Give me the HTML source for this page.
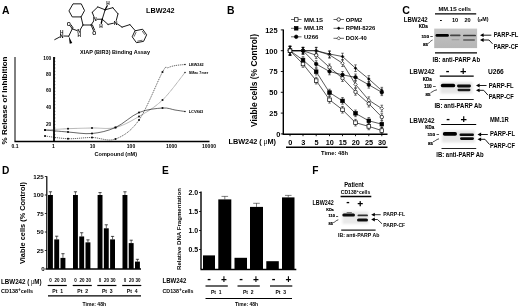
<!DOCTYPE html>
<html><head><meta charset="utf-8"><title>LBW242 figure</title>
<style>
html,body{margin:0;padding:0;background:#fff;}
body{width:520px;height:307px;overflow:hidden;}
svg{display:block;font-family:"Liberation Sans", sans-serif;filter:blur(0.35px);}
</style></head><body>
<svg width="520" height="307" viewBox="0 0 520 307">
<defs><filter id="bl" x="-20%" y="-60%" width="140%" height="220%"><feGaussianBlur stdDeviation="0.45"/></filter>
<filter id="bl2" x="-20%" y="-40%" width="140%" height="180%"><feGaussianBlur stdDeviation="1.2"/></filter>
<linearGradient id="gb" x1="0" y1="0" x2="0" y2="1"><stop offset="0" stop-color="#c6c6c6"/><stop offset="0.5" stop-color="#bcbcbc"/><stop offset="1" stop-color="#b6b6b6"/></linearGradient></defs>
<rect width="520" height="307" fill="#fff"/>
<g id="panelA">
<text x="2.00" y="13.74" font-size="10.4" font-weight="bold" text-anchor="start" fill="#000">A</text>
<path d="M69.15,10.58 L73.00,3.85 L81.27,3.85 L84.54,10.58 L81.08,16.92 L72.62,16.92 Z" stroke="#000" stroke-width="0.9" fill="none" stroke-linejoin="round" stroke-linecap="round"/>
<path d="M81.08,16.92 L83.00,25.00" stroke="#000" stroke-width="0.9" fill="none" stroke-linejoin="round" stroke-linecap="round"/>
<path d="M83.00,25.00 L80.35,29.37" stroke="#000" stroke-width="0.9" fill="none" stroke-linejoin="round" stroke-linecap="round"/>
<path d="M83.00,25.00 L91.08,25.00" stroke="#000" stroke-width="0.9" fill="none" stroke-linejoin="round" stroke-linecap="round"/>
<path d="M91.08,25.00 L93.64,21.15" stroke="#000" stroke-width="0.9" fill="none" stroke-linejoin="round" stroke-linecap="round"/>
<path d="M91.08,25.00 L93.44,30.57" stroke="#000" stroke-width="0.9" fill="none" stroke-linejoin="round" stroke-linecap="round"/>
<path d="M92.38,24.87 L94.59,30.08" stroke="#000" stroke-width="0.9" fill="none" stroke-linejoin="round" stroke-linecap="round"/>
<path d="M94.09,17.08 L92.23,12.31" stroke="#000" stroke-width="0.9" fill="none" stroke-linejoin="round" stroke-linecap="round"/>
<path d="M92.23,12.31 L97.81,6.92" stroke="#000" stroke-width="0.9" fill="none" stroke-linejoin="round" stroke-linecap="round"/>
<path d="M97.81,6.92 L105.12,9.81" stroke="#000" stroke-width="0.9" fill="none" stroke-linejoin="round" stroke-linecap="round"/>
<path d="M105.12,9.81 L102.23,19.23" stroke="#000" stroke-width="0.9" fill="none" stroke-linejoin="round" stroke-linecap="round"/>
<path d="M102.23,19.23 L97.23,19.23" stroke="#000" stroke-width="0.9" fill="none" stroke-linejoin="round" stroke-linecap="round"/>
<path d="M105.12,9.81 L112.81,7.69" stroke="#000" stroke-width="0.9" fill="none" stroke-linejoin="round" stroke-linecap="round"/>
<path d="M112.81,7.69 L118.00,13.85" stroke="#000" stroke-width="0.9" fill="none" stroke-linejoin="round" stroke-linecap="round"/>
<path d="M118.00,13.85 L116.27,20.46" stroke="#000" stroke-width="0.9" fill="none" stroke-linejoin="round" stroke-linecap="round"/>
<path d="M113.44,23.20 L108.00,24.42" stroke="#000" stroke-width="0.9" fill="none" stroke-linejoin="round" stroke-linecap="round"/>
<path d="M108.00,24.42 L102.23,19.23" stroke="#000" stroke-width="0.9" fill="none" stroke-linejoin="round" stroke-linecap="round"/>
<path d="M105.12,9.81 L107.23,5.77" stroke="#000" stroke-width="1.3" fill="none" stroke-linejoin="round" stroke-linecap="round"/>
<path d="M102.23,19.23 L101.27,23.27" stroke="#000" stroke-width="1.3" fill="none" stroke-linejoin="round" stroke-linecap="round"/>
<path d="M117.59,24.01 L122.04,27.12" stroke="#000" stroke-width="0.9" fill="none" stroke-linejoin="round" stroke-linecap="round"/>
<path d="M122.04,27.12 L129.92,24.62" stroke="#000" stroke-width="0.9" fill="none" stroke-linejoin="round" stroke-linecap="round"/>
<path d="M129.92,24.62 L135.31,30.77" stroke="#000" stroke-width="0.9" fill="none" stroke-linejoin="round" stroke-linecap="round"/>
<path d="M135.31,30.77 L142.62,29.23 L146.65,34.81 L143.58,41.35 L136.46,42.69 L132.42,37.12 Z" stroke="#000" stroke-width="0.9" fill="none" stroke-linejoin="round" stroke-linecap="round"/>
<path d="M142.27,31.19 L144.74,34.60" stroke="#000" stroke-width="0.6" fill="none" stroke-linejoin="round" stroke-linecap="round"/>
<path d="M142.11,40.28 L137.70,41.11" stroke="#000" stroke-width="0.6" fill="none" stroke-linejoin="round" stroke-linecap="round"/>
<path d="M134.22,36.34 L135.99,32.44" stroke="#000" stroke-width="0.6" fill="none" stroke-linejoin="round" stroke-linecap="round"/>
<path d="M76.98,30.56 L72.23,28.85" stroke="#000" stroke-width="0.9" fill="none" stroke-linejoin="round" stroke-linecap="round"/>
<path d="M72.23,28.85 L70.05,25.57" stroke="#000" stroke-width="0.9" fill="none" stroke-linejoin="round" stroke-linecap="round"/>
<path d="M73.06,27.83 L71.09,24.88" stroke="#000" stroke-width="0.9" fill="none" stroke-linejoin="round" stroke-linecap="round"/>
<path d="M72.23,28.85 L68.77,36.15" stroke="#000" stroke-width="0.9" fill="none" stroke-linejoin="round" stroke-linecap="round"/>
<path d="M68.77,36.15 L63.96,36.02" stroke="#000" stroke-width="0.9" fill="none" stroke-linejoin="round" stroke-linecap="round"/>
<polygon points="68.77,36.15 69.73,43.85 72.23,42.88" fill="#000"/>
<path d="M59.61,37.04 L54.73,39.62" stroke="#000" stroke-width="0.9" fill="none" stroke-linejoin="round" stroke-linecap="round"/>
<text x="94.92" y="21.10" font-size="5.2" font-weight="bold" text-anchor="middle" fill="#000">N</text>
<text x="115.69" y="24.56" font-size="5.2" font-weight="bold" text-anchor="middle" fill="#000">N</text>
<text x="79.15" y="33.22" font-size="5.2" font-weight="bold" text-anchor="middle" fill="#000">N</text>
<text x="79.15" y="37.30" font-size="4.8" font-weight="bold" text-anchor="middle" fill="#000">H</text>
<text x="61.65" y="37.83" font-size="5.2" font-weight="bold" text-anchor="middle" fill="#000">N</text>
<text x="61.65" y="33.65" font-size="4.8" font-weight="bold" text-anchor="middle" fill="#000">H</text>
<text x="68.77" y="25.53" font-size="5.2" font-weight="bold" text-anchor="middle" fill="#000">O</text>
<text x="94.35" y="34.56" font-size="5.2" font-weight="bold" text-anchor="middle" fill="#000">O</text>
<text x="108.00" y="5.00" font-size="4.8" font-weight="bold" text-anchor="middle" fill="#000">H</text>
<text x="100.88" y="27.69" font-size="4.8" font-weight="bold" text-anchor="middle" fill="#000">H</text>
<text x="146.00" y="13.14" font-size="7.9" font-weight="bold" text-anchor="start" fill="#000" textLength="28.5" lengthAdjust="spacingAndGlyphs">LBW242</text>
<text x="115.00" y="53.52" font-size="5.6" font-weight="bold" text-anchor="middle" fill="#000" textLength="70" lengthAdjust="spacingAndGlyphs">XIAP (BIR3) Binding Assay</text>
<line x1="15.00" y1="57.00" x2="15.00" y2="141.50" stroke="#000" stroke-width="1"/>
<line x1="54.00" y1="57.00" x2="54.00" y2="141.50" stroke="#000" stroke-width="1.8"/>
<line x1="14.50" y1="141.50" x2="209.50" y2="141.50" stroke="#000" stroke-width="1.3"/>
<line x1="54.00" y1="141.30" x2="55.60" y2="141.30" stroke="#000" stroke-width="0.4"/>
<line x1="54.00" y1="137.97" x2="55.60" y2="137.97" stroke="#000" stroke-width="0.4"/>
<line x1="54.00" y1="134.64" x2="55.60" y2="134.64" stroke="#000" stroke-width="0.4"/>
<line x1="54.00" y1="131.30" x2="55.60" y2="131.30" stroke="#000" stroke-width="0.4"/>
<line x1="54.00" y1="127.97" x2="55.60" y2="127.97" stroke="#000" stroke-width="0.4"/>
<line x1="54.00" y1="124.64" x2="55.60" y2="124.64" stroke="#000" stroke-width="0.4"/>
<line x1="54.00" y1="121.31" x2="55.60" y2="121.31" stroke="#000" stroke-width="0.4"/>
<line x1="54.00" y1="117.98" x2="55.60" y2="117.98" stroke="#000" stroke-width="0.4"/>
<line x1="54.00" y1="114.64" x2="55.60" y2="114.64" stroke="#000" stroke-width="0.4"/>
<line x1="54.00" y1="111.31" x2="55.60" y2="111.31" stroke="#000" stroke-width="0.4"/>
<line x1="54.00" y1="107.98" x2="55.60" y2="107.98" stroke="#000" stroke-width="0.4"/>
<line x1="54.00" y1="104.65" x2="55.60" y2="104.65" stroke="#000" stroke-width="0.4"/>
<line x1="54.00" y1="101.32" x2="55.60" y2="101.32" stroke="#000" stroke-width="0.4"/>
<line x1="54.00" y1="97.98" x2="55.60" y2="97.98" stroke="#000" stroke-width="0.4"/>
<line x1="54.00" y1="94.65" x2="55.60" y2="94.65" stroke="#000" stroke-width="0.4"/>
<line x1="54.00" y1="91.32" x2="55.60" y2="91.32" stroke="#000" stroke-width="0.4"/>
<line x1="54.00" y1="87.99" x2="55.60" y2="87.99" stroke="#000" stroke-width="0.4"/>
<line x1="54.00" y1="84.66" x2="55.60" y2="84.66" stroke="#000" stroke-width="0.4"/>
<line x1="54.00" y1="81.32" x2="55.60" y2="81.32" stroke="#000" stroke-width="0.4"/>
<line x1="54.00" y1="77.99" x2="55.60" y2="77.99" stroke="#000" stroke-width="0.4"/>
<line x1="54.00" y1="74.66" x2="55.60" y2="74.66" stroke="#000" stroke-width="0.4"/>
<line x1="54.00" y1="71.33" x2="55.60" y2="71.33" stroke="#000" stroke-width="0.4"/>
<line x1="54.00" y1="68.00" x2="55.60" y2="68.00" stroke="#000" stroke-width="0.4"/>
<line x1="54.00" y1="64.66" x2="55.60" y2="64.66" stroke="#000" stroke-width="0.4"/>
<line x1="54.00" y1="61.33" x2="55.60" y2="61.33" stroke="#000" stroke-width="0.4"/>
<line x1="54.00" y1="58.00" x2="55.60" y2="58.00" stroke="#000" stroke-width="0.4"/>
<text x="51.30" y="60.43" font-size="4.8" font-weight="bold" text-anchor="end" fill="#000">100</text>
<text x="51.30" y="75.73" font-size="4.8" font-weight="bold" text-anchor="end" fill="#000">80</text>
<text x="51.30" y="92.23" font-size="4.8" font-weight="bold" text-anchor="end" fill="#000">60</text>
<text x="51.30" y="108.73" font-size="4.8" font-weight="bold" text-anchor="end" fill="#000">40</text>
<text x="51.30" y="126.03" font-size="4.8" font-weight="bold" text-anchor="end" fill="#000">20</text>
<text x="15.00" y="148.00" font-size="5" font-weight="bold" text-anchor="middle" fill="#000">0.1</text>
<text x="53.50" y="148.00" font-size="5" font-weight="bold" text-anchor="middle" fill="#000">1</text>
<text x="92.50" y="148.00" font-size="5" font-weight="bold" text-anchor="middle" fill="#000">10</text>
<text x="131.00" y="148.00" font-size="5" font-weight="bold" text-anchor="middle" fill="#000">100</text>
<text x="171.50" y="148.00" font-size="5" font-weight="bold" text-anchor="middle" fill="#000">1000</text>
<text x="209.00" y="148.00" font-size="5" font-weight="bold" text-anchor="middle" fill="#000">10000</text>
<text x="115.80" y="155.52" font-size="5.6" font-weight="bold" text-anchor="middle" fill="#000" textLength="42.5" lengthAdjust="spacingAndGlyphs">Compound (nM)</text>
<text transform="translate(7.4,100.5) rotate(-90)" font-size="8.1" font-weight="bold" text-anchor="middle" textLength="88" lengthAdjust="spacingAndGlyphs">% Release of Inhibition</text>
<path d="M45.00,136.00 C48.83,136.45 60.17,138.45 68.00,138.70 C75.83,138.95 84.08,137.45 92.00,137.50 C99.92,137.55 107.67,141.92 115.50,139.00 C123.33,136.08 131.17,131.17 139.00,120.00 C146.83,108.83 157.67,80.70 162.50,72.00 C167.33,63.30 165.92,68.87 168.00,67.80 C170.08,66.73 172.17,66.15 175.00,65.60 C177.83,65.05 183.33,64.68 185.00,64.50" stroke="#000" stroke-width="0.6" fill="none" stroke-dasharray="1.2,0.8"/>
<path d="M45.00,130.00 C48.83,129.78 60.17,129.03 68.00,128.70 C75.83,128.37 84.08,128.20 92.00,128.00 C99.92,127.80 107.67,129.42 115.50,127.50 C123.33,125.58 131.17,121.08 139.00,116.50 C146.83,111.92 154.83,107.33 162.50,100.00 C170.17,92.67 181.25,77.08 185.00,72.50" stroke="#222" stroke-width="0.55" fill="none" stroke-dasharray="0.6,0.45"/>
<path d="M45.00,130.00 C48.83,130.33 60.17,131.42 68.00,132.00 C75.83,132.58 84.08,134.25 92.00,133.50 C99.92,132.75 107.67,131.00 115.50,127.50 C123.33,124.00 131.17,115.75 139.00,112.50 C146.83,109.25 156.50,108.42 162.50,108.00 C168.50,107.58 171.25,109.42 175.00,110.00 C178.75,110.58 183.33,111.25 185.00,111.50" stroke="#000" stroke-width="0.6" fill="none"/>
<rect x="44.15" y="135.15" width="1.70" height="1.70" fill="#000"/>
<rect x="67.15" y="137.85" width="1.70" height="1.70" fill="#000"/>
<rect x="91.15" y="136.65" width="1.70" height="1.70" fill="#000"/>
<rect x="114.65" y="138.15" width="1.70" height="1.70" fill="#000"/>
<rect x="138.15" y="119.15" width="1.70" height="1.70" fill="#000"/>
<rect x="161.65" y="71.15" width="1.70" height="1.70" fill="#000"/>
<rect x="44.15" y="129.15" width="1.70" height="1.70" fill="#000"/>
<rect x="67.15" y="127.85" width="1.70" height="1.70" fill="#000"/>
<rect x="91.15" y="127.15" width="1.70" height="1.70" fill="#000"/>
<rect x="114.65" y="126.65" width="1.70" height="1.70" fill="#000"/>
<rect x="138.15" y="115.65" width="1.70" height="1.70" fill="#000"/>
<rect x="161.65" y="99.15" width="1.70" height="1.70" fill="#000"/>
<rect x="44.15" y="129.15" width="1.70" height="1.70" fill="#000"/>
<rect x="67.15" y="131.15" width="1.70" height="1.70" fill="#000"/>
<rect x="91.15" y="132.65" width="1.70" height="1.70" fill="#000"/>
<rect x="114.65" y="126.65" width="1.70" height="1.70" fill="#000"/>
<rect x="138.15" y="111.65" width="1.70" height="1.70" fill="#000"/>
<rect x="161.65" y="107.15" width="1.70" height="1.70" fill="#000"/>
<rect x="184.40" y="63.90" width="1.20" height="1.20" fill="#000"/>
<rect x="184.40" y="71.90" width="1.20" height="1.20" fill="#000"/>
<rect x="184.40" y="110.90" width="1.20" height="1.20" fill="#000"/>
<text x="188.70" y="65.80" font-size="3.6" font-weight="bold" text-anchor="start" fill="#000" textLength="15" lengthAdjust="spacingAndGlyphs">LBW242</text>
<text x="188.70" y="73.80" font-size="3.6" font-weight="bold" text-anchor="start" fill="#000" textLength="19.5" lengthAdjust="spacingAndGlyphs">SMac 7mer</text>
<text x="188.70" y="112.60" font-size="3.6" font-weight="bold" text-anchor="start" fill="#000" textLength="14.5" lengthAdjust="spacingAndGlyphs">LCV843</text>
</g>
<g id="panelB">
<text x="227.00" y="13.74" font-size="10.4" font-weight="bold" text-anchor="start" fill="#000">B</text>
<line x1="283.30" y1="29.50" x2="283.30" y2="134.20" stroke="#000" stroke-width="1.4"/>
<line x1="282.60" y1="134.20" x2="387.50" y2="134.20" stroke="#000" stroke-width="1.5"/>
<line x1="280.80" y1="29.90" x2="283.30" y2="29.90" stroke="#000" stroke-width="0.9"/>
<text x="277.50" y="32.76" font-size="7.4" font-weight="bold" text-anchor="end" fill="#000">125</text>
<line x1="280.80" y1="50.70" x2="283.30" y2="50.70" stroke="#000" stroke-width="0.9"/>
<text x="277.50" y="53.56" font-size="7.4" font-weight="bold" text-anchor="end" fill="#000">100</text>
<line x1="280.80" y1="71.50" x2="283.30" y2="71.50" stroke="#000" stroke-width="0.9"/>
<text x="277.50" y="74.36" font-size="7.4" font-weight="bold" text-anchor="end" fill="#000">75</text>
<line x1="280.80" y1="92.30" x2="283.30" y2="92.30" stroke="#000" stroke-width="0.9"/>
<text x="277.50" y="95.16" font-size="7.4" font-weight="bold" text-anchor="end" fill="#000">50</text>
<line x1="280.80" y1="113.10" x2="283.30" y2="113.10" stroke="#000" stroke-width="0.9"/>
<text x="277.50" y="115.96" font-size="7.4" font-weight="bold" text-anchor="end" fill="#000">25</text>
<line x1="280.80" y1="133.90" x2="283.30" y2="133.90" stroke="#000" stroke-width="0.9"/>
<text x="280.40" y="136.76" font-size="7.4" font-weight="bold" text-anchor="end" fill="#000">0</text>
<text transform="translate(257,80.5) rotate(-90)" font-size="8.4" font-weight="bold" text-anchor="middle" textLength="93" lengthAdjust="spacingAndGlyphs">Viable cells (% Control)</text>
<text x="290.30" y="144.63" font-size="7.3" font-weight="bold" text-anchor="middle" fill="#000">0</text>
<line x1="290.00" y1="134.20" x2="290.00" y2="136.20" stroke="#000" stroke-width="0.9"/>
<text x="303.30" y="144.63" font-size="7.3" font-weight="bold" text-anchor="middle" fill="#000">3</text>
<line x1="303.00" y1="134.20" x2="303.00" y2="136.20" stroke="#000" stroke-width="0.9"/>
<text x="316.50" y="144.63" font-size="7.3" font-weight="bold" text-anchor="middle" fill="#000">5</text>
<line x1="316.20" y1="134.20" x2="316.20" y2="136.20" stroke="#000" stroke-width="0.9"/>
<text x="329.80" y="144.63" font-size="7.3" font-weight="bold" text-anchor="middle" fill="#000">10</text>
<line x1="329.50" y1="134.20" x2="329.50" y2="136.20" stroke="#000" stroke-width="0.9"/>
<text x="342.80" y="144.63" font-size="7.3" font-weight="bold" text-anchor="middle" fill="#000">15</text>
<line x1="342.50" y1="134.20" x2="342.50" y2="136.20" stroke="#000" stroke-width="0.9"/>
<text x="355.80" y="144.63" font-size="7.3" font-weight="bold" text-anchor="middle" fill="#000">20</text>
<line x1="355.50" y1="134.20" x2="355.50" y2="136.20" stroke="#000" stroke-width="0.9"/>
<text x="369.10" y="144.63" font-size="7.3" font-weight="bold" text-anchor="middle" fill="#000">25</text>
<line x1="368.80" y1="134.20" x2="368.80" y2="136.20" stroke="#000" stroke-width="0.9"/>
<text x="382.10" y="144.63" font-size="7.3" font-weight="bold" text-anchor="middle" fill="#000">30</text>
<line x1="381.80" y1="134.20" x2="381.80" y2="136.20" stroke="#000" stroke-width="0.9"/>
<line x1="286.00" y1="147.30" x2="387.50" y2="147.30" stroke="#000" stroke-width="1.5"/>
<text x="334.50" y="154.83" font-size="6.2" font-weight="bold" text-anchor="middle" fill="#000" textLength="27" lengthAdjust="spacingAndGlyphs">Time: 48h</text>
<text x="228.50" y="144.42" font-size="8.1" font-weight="bold" text-anchor="start" fill="#000" textLength="47.5" lengthAdjust="spacingAndGlyphs">LBW242 (<tspan font-weight="normal" font-family="Liberation Serif, serif"> μ</tspan>M)</text>
<path d="M290.00,50.70 L303.00,50.70 L316.20,50.70 L329.50,54.86 L342.50,63.18 L355.50,84.40 L368.80,100.20 L381.80,108.52" stroke="#000" stroke-width="0.65" fill="none"/>
<line x1="290.00" y1="46.30" x2="290.00" y2="55.10" stroke="#000" stroke-width="0.5"/>
<line x1="288.70" y1="46.30" x2="291.30" y2="46.30" stroke="#000" stroke-width="0.55"/>
<line x1="288.70" y1="55.10" x2="291.30" y2="55.10" stroke="#000" stroke-width="0.55"/>
<line x1="303.00" y1="47.40" x2="303.00" y2="54.00" stroke="#000" stroke-width="0.5"/>
<line x1="301.70" y1="47.40" x2="304.30" y2="47.40" stroke="#000" stroke-width="0.55"/>
<line x1="301.70" y1="54.00" x2="304.30" y2="54.00" stroke="#000" stroke-width="0.55"/>
<line x1="316.20" y1="47.40" x2="316.20" y2="54.00" stroke="#000" stroke-width="0.5"/>
<line x1="314.90" y1="47.40" x2="317.50" y2="47.40" stroke="#000" stroke-width="0.55"/>
<line x1="314.90" y1="54.00" x2="317.50" y2="54.00" stroke="#000" stroke-width="0.55"/>
<line x1="329.50" y1="51.56" x2="329.50" y2="58.16" stroke="#000" stroke-width="0.5"/>
<line x1="328.20" y1="51.56" x2="330.80" y2="51.56" stroke="#000" stroke-width="0.55"/>
<line x1="328.20" y1="58.16" x2="330.80" y2="58.16" stroke="#000" stroke-width="0.55"/>
<line x1="342.50" y1="59.88" x2="342.50" y2="66.48" stroke="#000" stroke-width="0.5"/>
<line x1="341.20" y1="59.88" x2="343.80" y2="59.88" stroke="#000" stroke-width="0.55"/>
<line x1="341.20" y1="66.48" x2="343.80" y2="66.48" stroke="#000" stroke-width="0.55"/>
<line x1="355.50" y1="81.10" x2="355.50" y2="87.70" stroke="#000" stroke-width="0.5"/>
<line x1="354.20" y1="81.10" x2="356.80" y2="81.10" stroke="#000" stroke-width="0.55"/>
<line x1="354.20" y1="87.70" x2="356.80" y2="87.70" stroke="#000" stroke-width="0.55"/>
<line x1="368.80" y1="96.90" x2="368.80" y2="103.50" stroke="#000" stroke-width="0.5"/>
<line x1="367.50" y1="96.90" x2="370.10" y2="96.90" stroke="#000" stroke-width="0.55"/>
<line x1="367.50" y1="103.50" x2="370.10" y2="103.50" stroke="#000" stroke-width="0.55"/>
<line x1="381.80" y1="105.22" x2="381.80" y2="111.82" stroke="#000" stroke-width="0.5"/>
<line x1="380.50" y1="105.22" x2="383.10" y2="105.22" stroke="#000" stroke-width="0.55"/>
<line x1="380.50" y1="111.82" x2="383.10" y2="111.82" stroke="#000" stroke-width="0.55"/>
<path d="M290.00,50.70 L303.00,50.70 L316.20,50.70 L329.50,54.03 L342.50,56.52 L355.50,68.17 L368.80,78.99 L381.80,90.64" stroke="#000" stroke-width="0.65" fill="none"/>
<line x1="290.00" y1="46.30" x2="290.00" y2="55.10" stroke="#000" stroke-width="0.5"/>
<line x1="288.70" y1="46.30" x2="291.30" y2="46.30" stroke="#000" stroke-width="0.55"/>
<line x1="288.70" y1="55.10" x2="291.30" y2="55.10" stroke="#000" stroke-width="0.55"/>
<line x1="303.00" y1="47.40" x2="303.00" y2="54.00" stroke="#000" stroke-width="0.5"/>
<line x1="301.70" y1="47.40" x2="304.30" y2="47.40" stroke="#000" stroke-width="0.55"/>
<line x1="301.70" y1="54.00" x2="304.30" y2="54.00" stroke="#000" stroke-width="0.55"/>
<line x1="316.20" y1="47.40" x2="316.20" y2="54.00" stroke="#000" stroke-width="0.5"/>
<line x1="314.90" y1="47.40" x2="317.50" y2="47.40" stroke="#000" stroke-width="0.55"/>
<line x1="314.90" y1="54.00" x2="317.50" y2="54.00" stroke="#000" stroke-width="0.55"/>
<line x1="329.50" y1="50.73" x2="329.50" y2="57.33" stroke="#000" stroke-width="0.5"/>
<line x1="328.20" y1="50.73" x2="330.80" y2="50.73" stroke="#000" stroke-width="0.55"/>
<line x1="328.20" y1="57.33" x2="330.80" y2="57.33" stroke="#000" stroke-width="0.55"/>
<line x1="342.50" y1="53.22" x2="342.50" y2="59.82" stroke="#000" stroke-width="0.5"/>
<line x1="341.20" y1="53.22" x2="343.80" y2="53.22" stroke="#000" stroke-width="0.55"/>
<line x1="341.20" y1="59.82" x2="343.80" y2="59.82" stroke="#000" stroke-width="0.55"/>
<line x1="355.50" y1="64.87" x2="355.50" y2="71.47" stroke="#000" stroke-width="0.5"/>
<line x1="354.20" y1="64.87" x2="356.80" y2="64.87" stroke="#000" stroke-width="0.55"/>
<line x1="354.20" y1="71.47" x2="356.80" y2="71.47" stroke="#000" stroke-width="0.55"/>
<line x1="368.80" y1="75.69" x2="368.80" y2="82.29" stroke="#000" stroke-width="0.5"/>
<line x1="367.50" y1="75.69" x2="370.10" y2="75.69" stroke="#000" stroke-width="0.55"/>
<line x1="367.50" y1="82.29" x2="370.10" y2="82.29" stroke="#000" stroke-width="0.55"/>
<line x1="381.80" y1="87.34" x2="381.80" y2="93.94" stroke="#000" stroke-width="0.5"/>
<line x1="380.50" y1="87.34" x2="383.10" y2="87.34" stroke="#000" stroke-width="0.55"/>
<line x1="380.50" y1="93.94" x2="383.10" y2="93.94" stroke="#000" stroke-width="0.55"/>
<path d="M290.00,50.70 L303.00,50.70 L316.20,55.28 L329.50,67.34 L342.50,78.16 L355.50,91.88 L368.80,103.70 L381.80,117.01" stroke="#000" stroke-width="0.65" fill="none"/>
<line x1="290.00" y1="46.30" x2="290.00" y2="55.10" stroke="#000" stroke-width="0.5"/>
<line x1="288.70" y1="46.30" x2="291.30" y2="46.30" stroke="#000" stroke-width="0.55"/>
<line x1="288.70" y1="55.10" x2="291.30" y2="55.10" stroke="#000" stroke-width="0.55"/>
<line x1="303.00" y1="47.40" x2="303.00" y2="54.00" stroke="#000" stroke-width="0.5"/>
<line x1="301.70" y1="47.40" x2="304.30" y2="47.40" stroke="#000" stroke-width="0.55"/>
<line x1="301.70" y1="54.00" x2="304.30" y2="54.00" stroke="#000" stroke-width="0.55"/>
<line x1="316.20" y1="51.98" x2="316.20" y2="58.58" stroke="#000" stroke-width="0.5"/>
<line x1="314.90" y1="51.98" x2="317.50" y2="51.98" stroke="#000" stroke-width="0.55"/>
<line x1="314.90" y1="58.58" x2="317.50" y2="58.58" stroke="#000" stroke-width="0.55"/>
<line x1="329.50" y1="64.04" x2="329.50" y2="70.64" stroke="#000" stroke-width="0.5"/>
<line x1="328.20" y1="64.04" x2="330.80" y2="64.04" stroke="#000" stroke-width="0.55"/>
<line x1="328.20" y1="70.64" x2="330.80" y2="70.64" stroke="#000" stroke-width="0.55"/>
<line x1="342.50" y1="74.86" x2="342.50" y2="81.46" stroke="#000" stroke-width="0.5"/>
<line x1="341.20" y1="74.86" x2="343.80" y2="74.86" stroke="#000" stroke-width="0.55"/>
<line x1="341.20" y1="81.46" x2="343.80" y2="81.46" stroke="#000" stroke-width="0.55"/>
<line x1="355.50" y1="88.58" x2="355.50" y2="95.18" stroke="#000" stroke-width="0.5"/>
<line x1="354.20" y1="88.58" x2="356.80" y2="88.58" stroke="#000" stroke-width="0.55"/>
<line x1="354.20" y1="95.18" x2="356.80" y2="95.18" stroke="#000" stroke-width="0.55"/>
<line x1="368.80" y1="100.40" x2="368.80" y2="107.00" stroke="#000" stroke-width="0.5"/>
<line x1="367.50" y1="100.40" x2="370.10" y2="100.40" stroke="#000" stroke-width="0.55"/>
<line x1="367.50" y1="107.00" x2="370.10" y2="107.00" stroke="#000" stroke-width="0.55"/>
<line x1="381.80" y1="113.71" x2="381.80" y2="120.31" stroke="#000" stroke-width="0.5"/>
<line x1="380.50" y1="113.71" x2="383.10" y2="113.71" stroke="#000" stroke-width="0.55"/>
<line x1="380.50" y1="120.31" x2="383.10" y2="120.31" stroke="#000" stroke-width="0.55"/>
<path d="M290.00,50.70 L303.00,50.70 L316.20,64.01 L329.50,71.50 L342.50,74.83 L355.50,77.32 L368.80,84.81 L381.80,92.30" stroke="#000" stroke-width="0.65" fill="none"/>
<line x1="290.00" y1="46.30" x2="290.00" y2="55.10" stroke="#000" stroke-width="0.5"/>
<line x1="288.70" y1="46.30" x2="291.30" y2="46.30" stroke="#000" stroke-width="0.55"/>
<line x1="288.70" y1="55.10" x2="291.30" y2="55.10" stroke="#000" stroke-width="0.55"/>
<line x1="303.00" y1="47.40" x2="303.00" y2="54.00" stroke="#000" stroke-width="0.5"/>
<line x1="301.70" y1="47.40" x2="304.30" y2="47.40" stroke="#000" stroke-width="0.55"/>
<line x1="301.70" y1="54.00" x2="304.30" y2="54.00" stroke="#000" stroke-width="0.55"/>
<line x1="316.20" y1="60.71" x2="316.20" y2="67.31" stroke="#000" stroke-width="0.5"/>
<line x1="314.90" y1="60.71" x2="317.50" y2="60.71" stroke="#000" stroke-width="0.55"/>
<line x1="314.90" y1="67.31" x2="317.50" y2="67.31" stroke="#000" stroke-width="0.55"/>
<line x1="329.50" y1="68.20" x2="329.50" y2="74.80" stroke="#000" stroke-width="0.5"/>
<line x1="328.20" y1="68.20" x2="330.80" y2="68.20" stroke="#000" stroke-width="0.55"/>
<line x1="328.20" y1="74.80" x2="330.80" y2="74.80" stroke="#000" stroke-width="0.55"/>
<line x1="342.50" y1="71.53" x2="342.50" y2="78.13" stroke="#000" stroke-width="0.5"/>
<line x1="341.20" y1="71.53" x2="343.80" y2="71.53" stroke="#000" stroke-width="0.55"/>
<line x1="341.20" y1="78.13" x2="343.80" y2="78.13" stroke="#000" stroke-width="0.55"/>
<line x1="355.50" y1="74.02" x2="355.50" y2="80.62" stroke="#000" stroke-width="0.5"/>
<line x1="354.20" y1="74.02" x2="356.80" y2="74.02" stroke="#000" stroke-width="0.55"/>
<line x1="354.20" y1="80.62" x2="356.80" y2="80.62" stroke="#000" stroke-width="0.55"/>
<line x1="368.80" y1="81.51" x2="368.80" y2="88.11" stroke="#000" stroke-width="0.5"/>
<line x1="367.50" y1="81.51" x2="370.10" y2="81.51" stroke="#000" stroke-width="0.55"/>
<line x1="367.50" y1="88.11" x2="370.10" y2="88.11" stroke="#000" stroke-width="0.55"/>
<line x1="381.80" y1="89.00" x2="381.80" y2="95.60" stroke="#000" stroke-width="0.5"/>
<line x1="380.50" y1="89.00" x2="383.10" y2="89.00" stroke="#000" stroke-width="0.55"/>
<line x1="380.50" y1="95.60" x2="383.10" y2="95.60" stroke="#000" stroke-width="0.55"/>
<path d="M290.00,50.70 L303.00,60.02 L316.20,71.67 L329.50,92.55 L342.50,100.87 L355.50,113.35 L368.80,120.84 L381.80,124.17" stroke="#000" stroke-width="0.65" fill="none"/>
<line x1="290.00" y1="46.30" x2="290.00" y2="55.10" stroke="#000" stroke-width="0.5"/>
<line x1="288.70" y1="46.30" x2="291.30" y2="46.30" stroke="#000" stroke-width="0.55"/>
<line x1="288.70" y1="55.10" x2="291.30" y2="55.10" stroke="#000" stroke-width="0.55"/>
<line x1="303.00" y1="56.72" x2="303.00" y2="63.32" stroke="#000" stroke-width="0.5"/>
<line x1="301.70" y1="56.72" x2="304.30" y2="56.72" stroke="#000" stroke-width="0.55"/>
<line x1="301.70" y1="63.32" x2="304.30" y2="63.32" stroke="#000" stroke-width="0.55"/>
<line x1="316.20" y1="68.37" x2="316.20" y2="74.97" stroke="#000" stroke-width="0.5"/>
<line x1="314.90" y1="68.37" x2="317.50" y2="68.37" stroke="#000" stroke-width="0.55"/>
<line x1="314.90" y1="74.97" x2="317.50" y2="74.97" stroke="#000" stroke-width="0.55"/>
<line x1="329.50" y1="89.25" x2="329.50" y2="95.85" stroke="#000" stroke-width="0.5"/>
<line x1="328.20" y1="89.25" x2="330.80" y2="89.25" stroke="#000" stroke-width="0.55"/>
<line x1="328.20" y1="95.85" x2="330.80" y2="95.85" stroke="#000" stroke-width="0.55"/>
<line x1="342.50" y1="97.57" x2="342.50" y2="104.17" stroke="#000" stroke-width="0.5"/>
<line x1="341.20" y1="97.57" x2="343.80" y2="97.57" stroke="#000" stroke-width="0.55"/>
<line x1="341.20" y1="104.17" x2="343.80" y2="104.17" stroke="#000" stroke-width="0.55"/>
<line x1="355.50" y1="110.05" x2="355.50" y2="116.65" stroke="#000" stroke-width="0.5"/>
<line x1="354.20" y1="110.05" x2="356.80" y2="110.05" stroke="#000" stroke-width="0.55"/>
<line x1="354.20" y1="116.65" x2="356.80" y2="116.65" stroke="#000" stroke-width="0.55"/>
<line x1="368.80" y1="117.54" x2="368.80" y2="124.14" stroke="#000" stroke-width="0.5"/>
<line x1="367.50" y1="117.54" x2="370.10" y2="117.54" stroke="#000" stroke-width="0.55"/>
<line x1="367.50" y1="124.14" x2="370.10" y2="124.14" stroke="#000" stroke-width="0.55"/>
<line x1="381.80" y1="120.87" x2="381.80" y2="127.47" stroke="#000" stroke-width="0.5"/>
<line x1="380.50" y1="120.87" x2="383.10" y2="120.87" stroke="#000" stroke-width="0.55"/>
<line x1="380.50" y1="127.47" x2="383.10" y2="127.47" stroke="#000" stroke-width="0.55"/>
<path d="M290.00,50.70 L303.00,64.01 L316.20,80.65 L329.50,99.79 L342.50,109.77 L355.50,122.67 L368.80,126.41 L381.80,130.57" stroke="#000" stroke-width="0.65" fill="none"/>
<line x1="290.00" y1="46.30" x2="290.00" y2="55.10" stroke="#000" stroke-width="0.5"/>
<line x1="288.70" y1="46.30" x2="291.30" y2="46.30" stroke="#000" stroke-width="0.55"/>
<line x1="288.70" y1="55.10" x2="291.30" y2="55.10" stroke="#000" stroke-width="0.55"/>
<line x1="303.00" y1="60.71" x2="303.00" y2="67.31" stroke="#000" stroke-width="0.5"/>
<line x1="301.70" y1="60.71" x2="304.30" y2="60.71" stroke="#000" stroke-width="0.55"/>
<line x1="301.70" y1="67.31" x2="304.30" y2="67.31" stroke="#000" stroke-width="0.55"/>
<line x1="316.20" y1="77.35" x2="316.20" y2="83.95" stroke="#000" stroke-width="0.5"/>
<line x1="314.90" y1="77.35" x2="317.50" y2="77.35" stroke="#000" stroke-width="0.55"/>
<line x1="314.90" y1="83.95" x2="317.50" y2="83.95" stroke="#000" stroke-width="0.55"/>
<line x1="329.50" y1="96.49" x2="329.50" y2="103.09" stroke="#000" stroke-width="0.5"/>
<line x1="328.20" y1="96.49" x2="330.80" y2="96.49" stroke="#000" stroke-width="0.55"/>
<line x1="328.20" y1="103.09" x2="330.80" y2="103.09" stroke="#000" stroke-width="0.55"/>
<line x1="342.50" y1="106.47" x2="342.50" y2="113.07" stroke="#000" stroke-width="0.5"/>
<line x1="341.20" y1="106.47" x2="343.80" y2="106.47" stroke="#000" stroke-width="0.55"/>
<line x1="341.20" y1="113.07" x2="343.80" y2="113.07" stroke="#000" stroke-width="0.55"/>
<line x1="355.50" y1="119.37" x2="355.50" y2="125.97" stroke="#000" stroke-width="0.5"/>
<line x1="354.20" y1="119.37" x2="356.80" y2="119.37" stroke="#000" stroke-width="0.55"/>
<line x1="354.20" y1="125.97" x2="356.80" y2="125.97" stroke="#000" stroke-width="0.55"/>
<line x1="368.80" y1="123.11" x2="368.80" y2="129.71" stroke="#000" stroke-width="0.5"/>
<line x1="367.50" y1="123.11" x2="370.10" y2="123.11" stroke="#000" stroke-width="0.55"/>
<line x1="367.50" y1="129.71" x2="370.10" y2="129.71" stroke="#000" stroke-width="0.55"/>
<line x1="381.80" y1="127.27" x2="381.80" y2="133.87" stroke="#000" stroke-width="0.5"/>
<line x1="380.50" y1="127.27" x2="383.10" y2="127.27" stroke="#000" stroke-width="0.55"/>
<line x1="380.50" y1="133.87" x2="383.10" y2="133.87" stroke="#000" stroke-width="0.55"/>
<polygon points="288.25,50.70 290.00,48.95 291.75,50.70 290.00,52.45" fill="#fff" stroke="#000" stroke-width="0.6"/>
<polygon points="301.25,50.70 303.00,48.95 304.75,50.70 303.00,52.45" fill="#fff" stroke="#000" stroke-width="0.6"/>
<polygon points="314.45,50.70 316.20,48.95 317.95,50.70 316.20,52.45" fill="#fff" stroke="#000" stroke-width="0.6"/>
<polygon points="327.75,54.86 329.50,53.11 331.25,54.86 329.50,56.61" fill="#fff" stroke="#000" stroke-width="0.6"/>
<polygon points="340.75,63.18 342.50,61.43 344.25,63.18 342.50,64.93" fill="#fff" stroke="#000" stroke-width="0.6"/>
<polygon points="353.75,84.40 355.50,82.65 357.25,84.40 355.50,86.15" fill="#fff" stroke="#000" stroke-width="0.6"/>
<polygon points="367.05,100.20 368.80,98.45 370.55,100.20 368.80,101.95" fill="#fff" stroke="#000" stroke-width="0.6"/>
<polygon points="380.05,108.52 381.80,106.77 383.55,108.52 381.80,110.27" fill="#fff" stroke="#000" stroke-width="0.6"/>
<polygon points="288.50,50.70 290.00,49.20 291.50,50.70 290.00,52.20" fill="#000" stroke="#000" stroke-width="0.4"/>
<polygon points="301.50,50.70 303.00,49.20 304.50,50.70 303.00,52.20" fill="#000" stroke="#000" stroke-width="0.4"/>
<polygon points="314.70,50.70 316.20,49.20 317.70,50.70 316.20,52.20" fill="#000" stroke="#000" stroke-width="0.4"/>
<polygon points="328.00,54.03 329.50,52.53 331.00,54.03 329.50,55.53" fill="#000" stroke="#000" stroke-width="0.4"/>
<polygon points="341.00,56.52 342.50,55.02 344.00,56.52 342.50,58.02" fill="#000" stroke="#000" stroke-width="0.4"/>
<polygon points="354.00,68.17 355.50,66.67 357.00,68.17 355.50,69.67" fill="#000" stroke="#000" stroke-width="0.4"/>
<polygon points="367.30,78.99 368.80,77.49 370.30,78.99 368.80,80.49" fill="#000" stroke="#000" stroke-width="0.4"/>
<polygon points="380.30,90.64 381.80,89.14 383.30,90.64 381.80,92.14" fill="#000" stroke="#000" stroke-width="0.4"/>
<circle cx="290.00" cy="50.70" r="1.75" fill="#fff" stroke="#000" stroke-width="0.7"/>
<circle cx="303.00" cy="50.70" r="1.75" fill="#fff" stroke="#000" stroke-width="0.7"/>
<circle cx="316.20" cy="55.28" r="1.75" fill="#fff" stroke="#000" stroke-width="0.7"/>
<circle cx="329.50" cy="67.34" r="1.75" fill="#fff" stroke="#000" stroke-width="0.7"/>
<circle cx="342.50" cy="78.16" r="1.75" fill="#fff" stroke="#000" stroke-width="0.7"/>
<circle cx="355.50" cy="91.88" r="1.75" fill="#fff" stroke="#000" stroke-width="0.7"/>
<circle cx="368.80" cy="103.70" r="1.75" fill="#fff" stroke="#000" stroke-width="0.7"/>
<circle cx="381.80" cy="117.01" r="1.75" fill="#fff" stroke="#000" stroke-width="0.7"/>
<circle cx="290.00" cy="50.70" r="1.75" fill="#000" stroke="#000" stroke-width="0.7"/>
<circle cx="303.00" cy="50.70" r="1.75" fill="#000" stroke="#000" stroke-width="0.7"/>
<circle cx="316.20" cy="64.01" r="1.75" fill="#000" stroke="#000" stroke-width="0.7"/>
<circle cx="329.50" cy="71.50" r="1.75" fill="#000" stroke="#000" stroke-width="0.7"/>
<circle cx="342.50" cy="74.83" r="1.75" fill="#000" stroke="#000" stroke-width="0.7"/>
<circle cx="355.50" cy="77.32" r="1.75" fill="#000" stroke="#000" stroke-width="0.7"/>
<circle cx="368.80" cy="84.81" r="1.75" fill="#000" stroke="#000" stroke-width="0.7"/>
<circle cx="381.80" cy="92.30" r="1.75" fill="#000" stroke="#000" stroke-width="0.7"/>
<rect x="288.20" y="48.90" width="3.6" height="3.6" fill="#000" stroke="#000" stroke-width="0.7"/>
<rect x="301.20" y="58.22" width="3.6" height="3.6" fill="#000" stroke="#000" stroke-width="0.7"/>
<rect x="314.40" y="69.87" width="3.6" height="3.6" fill="#000" stroke="#000" stroke-width="0.7"/>
<rect x="327.70" y="90.75" width="3.6" height="3.6" fill="#000" stroke="#000" stroke-width="0.7"/>
<rect x="340.70" y="99.07" width="3.6" height="3.6" fill="#000" stroke="#000" stroke-width="0.7"/>
<rect x="353.70" y="111.55" width="3.6" height="3.6" fill="#000" stroke="#000" stroke-width="0.7"/>
<rect x="367.00" y="119.04" width="3.6" height="3.6" fill="#000" stroke="#000" stroke-width="0.7"/>
<rect x="380.00" y="122.37" width="3.6" height="3.6" fill="#000" stroke="#000" stroke-width="0.7"/>
<rect x="288.20" y="48.90" width="3.6" height="3.6" fill="#fff" stroke="#000" stroke-width="0.7"/>
<rect x="301.20" y="62.21" width="3.6" height="3.6" fill="#fff" stroke="#000" stroke-width="0.7"/>
<rect x="314.40" y="78.85" width="3.6" height="3.6" fill="#fff" stroke="#000" stroke-width="0.7"/>
<rect x="327.70" y="97.99" width="3.6" height="3.6" fill="#fff" stroke="#000" stroke-width="0.7"/>
<rect x="340.70" y="107.97" width="3.6" height="3.6" fill="#fff" stroke="#000" stroke-width="0.7"/>
<rect x="353.70" y="120.87" width="3.6" height="3.6" fill="#fff" stroke="#000" stroke-width="0.7"/>
<rect x="367.00" y="124.61" width="3.6" height="3.6" fill="#fff" stroke="#000" stroke-width="0.7"/>
<rect x="380.00" y="128.77" width="3.6" height="3.6" fill="#fff" stroke="#000" stroke-width="0.7"/>
<line x1="291.00" y1="19.50" x2="301.50" y2="19.50" stroke="#000" stroke-width="0.6"/>
<rect x="294.40" y="17.70" width="3.6" height="3.6" fill="#fff" stroke="#000" stroke-width="0.7"/>
<text x="304.00" y="21.66" font-size="6" font-weight="bold" text-anchor="start" fill="#000">MM.1S</text>
<line x1="291.00" y1="28.30" x2="301.50" y2="28.30" stroke="#000" stroke-width="0.6"/>
<rect x="294.40" y="26.50" width="3.6" height="3.6" fill="#000" stroke="#000" stroke-width="0.7"/>
<text x="304.00" y="30.46" font-size="6" font-weight="bold" text-anchor="start" fill="#000">MM.1R</text>
<line x1="291.00" y1="36.80" x2="301.50" y2="36.80" stroke="#000" stroke-width="0.6"/>
<circle cx="296.20" cy="36.80" r="1.75" fill="#000" stroke="#000" stroke-width="0.7"/>
<text x="304.00" y="38.96" font-size="6" font-weight="bold" text-anchor="start" fill="#000">U266</text>
<line x1="333.50" y1="19.50" x2="344.00" y2="19.50" stroke="#000" stroke-width="0.6"/>
<circle cx="338.70" cy="19.50" r="1.75" fill="#fff" stroke="#000" stroke-width="0.7"/>
<text x="345.70" y="21.61" font-size="5.85" font-weight="bold" text-anchor="start" fill="#000">OPM2</text>
<line x1="333.50" y1="28.30" x2="344.00" y2="28.30" stroke="#000" stroke-width="0.6"/>
<polygon points="337.20,28.30 338.70,26.80 340.20,28.30 338.70,29.80" fill="#000" stroke="#000" stroke-width="0.4"/>
<text x="345.70" y="30.41" font-size="5.85" font-weight="bold" text-anchor="start" fill="#000">RPMI-8226</text>
<line x1="333.50" y1="38.30" x2="344.00" y2="38.30" stroke="#000" stroke-width="0.6"/>
<polygon points="336.95,38.30 338.70,36.55 340.45,38.30 338.70,40.05" fill="#fff" stroke="#000" stroke-width="0.6"/>
<text x="345.70" y="40.41" font-size="5.85" font-weight="bold" text-anchor="start" fill="#000">DOX-40</text>
</g>
<g id="panelC">
<text x="402.30" y="13.82" font-size="10.6" font-weight="bold" text-anchor="start" fill="#000">C</text>
<text x="454.80" y="10.60" font-size="6.1" font-weight="bold" text-anchor="middle" fill="#000" textLength="32.5" lengthAdjust="spacingAndGlyphs">MM.1S cells</text>
<line x1="435.00" y1="13.80" x2="476.20" y2="13.80" stroke="#000" stroke-width="1.2"/>
<text x="403.70" y="22.34" font-size="7.6" font-weight="bold" text-anchor="start" fill="#000" textLength="24" lengthAdjust="spacingAndGlyphs">LBW242</text>
<text x="440.80" y="21.92" font-size="7" font-weight="bold" text-anchor="middle" fill="#000">-</text>
<text x="455.00" y="22.02" font-size="5.6" font-weight="bold" text-anchor="middle" fill="#000">10</text>
<text x="467.50" y="22.02" font-size="5.6" font-weight="bold" text-anchor="middle" fill="#000">20</text>
<text x="477.50" y="21.33" font-size="4.8" font-weight="bold" text-anchor="start" fill="#000" textLength="11" lengthAdjust="spacingAndGlyphs">(<tspan font-family="Liberation Serif, serif">μ</tspan>M)</text>
<text x="418.80" y="28.17" font-size="5.2" font-weight="bold" text-anchor="start" fill="#000" textLength="9" lengthAdjust="spacingAndGlyphs" stroke="#000" stroke-width="0.2">KDa</text>
<rect x="434.2" y="28.6" width="42.9" height="19.5" fill="url(#gb)"/>
<rect x="435.50" y="34.10" width="13.40" height="2.60" rx="1.30" fill="#050505" filter="url(#bl)"/>
<rect x="450.00" y="34.40" width="10.60" height="1.80" rx="0.90" fill="#444" filter="url(#bl)"/>
<rect x="451.50" y="39.25" width="8.00" height="1.10" rx="0.55" fill="#999" filter="url(#bl)"/>
<rect x="463.00" y="34.65" width="13.00" height="1.70" rx="0.85" fill="#3a3a3a" filter="url(#bl)"/>
<rect x="463.00" y="39.25" width="12.00" height="1.50" rx="0.75" fill="#5a5a5a" filter="url(#bl)"/>
<text x="421.50" y="37.88" font-size="4.4" font-weight="bold" text-anchor="start" fill="#000" textLength="11.3" lengthAdjust="spacingAndGlyphs" stroke="#000" stroke-width="0.2">110 –</text>
<text x="423.00" y="46.48" font-size="4.4" font-weight="bold" text-anchor="start" fill="#000" stroke="#000" stroke-width="0.2">85</text>
<path d="M427.6,43.8 C429.5,43.3 430,40.8 432.6,40" stroke="#000" stroke-width="0.6" fill="none"/>
<line x1="482.00" y1="35.20" x2="491.30" y2="35.20" stroke="#000" stroke-width="0.9"/>
<polygon points="480.00,35.20 483.60,33.30 483.60,37.10" fill="#000"/>
<text x="493.70" y="37.38" font-size="6.6" font-weight="bold" text-anchor="start" fill="#000" textLength="24.5" lengthAdjust="spacingAndGlyphs">PARP-FL</text>
<path d="M482.00,40.00 L489.00,40.00 L492.50,43.80" stroke="#000" stroke-width="0.9" fill="none"/>
<polygon points="480.00,40.00 483.60,38.10 483.60,41.90" fill="#000"/>
<text x="493.70" y="48.58" font-size="6.6" font-weight="bold" text-anchor="start" fill="#000" textLength="24.5" lengthAdjust="spacingAndGlyphs">PARP-CF</text>
<line x1="435.00" y1="52.80" x2="477.00" y2="52.80" stroke="#000" stroke-width="1.2"/>
<text x="456.30" y="61.77" font-size="6.3" font-weight="bold" text-anchor="middle" fill="#000" textLength="47.5" lengthAdjust="spacingAndGlyphs">IB: anti-PARP Ab</text>
</g>
<text x="409.50" y="74.28" font-size="8" font-weight="bold" text-anchor="start" fill="#000" textLength="25" lengthAdjust="spacingAndGlyphs">LBW242</text>
<text x="447.70" y="73.76" font-size="11" font-weight="bold" text-anchor="middle" fill="#000">-</text>
<text x="463.30" y="74.56" font-size="11" font-weight="bold" text-anchor="middle" fill="#000">+</text>
<text x="488.00" y="73.65" font-size="6.8" font-weight="bold" text-anchor="start" fill="#000" textLength="15.8" lengthAdjust="spacingAndGlyphs">U266</text>
<line x1="439.80" y1="76.10" x2="473.70" y2="76.10" stroke="#000" stroke-width="1.2"/>
<text x="422.70" y="80.87" font-size="5.2" font-weight="bold" text-anchor="start" fill="#000" textLength="9" lengthAdjust="spacingAndGlyphs" stroke="#000" stroke-width="0.2">KDa</text>
<rect x="440.50" y="82.00" width="32.00" height="11.50" fill="#e6e6e6" filter="url(#bl2)"/>
<rect x="440.80" y="83.65" width="14.40" height="3.70" rx="1.85" fill="#050505" filter="url(#bl)"/>
<rect x="457.00" y="84.60" width="14.00" height="2.80" rx="1.40" fill="#0c0c0c" filter="url(#bl)"/>
<rect x="457.50" y="88.85" width="13.00" height="2.30" rx="1.15" fill="#1c1c1c" filter="url(#bl)"/>
<text x="424.00" y="88.02" font-size="4.5" font-weight="bold" text-anchor="start" fill="#000" textLength="11.8" lengthAdjust="spacingAndGlyphs" stroke="#000" stroke-width="0.2">110 –</text>
<text x="425.50" y="95.98" font-size="4.4" font-weight="bold" text-anchor="start" fill="#000" stroke="#000" stroke-width="0.2">85</text>
<path d="M430.6,92.6 C432.5,92.2 433.5,90.3 437,89.8" stroke="#000" stroke-width="0.7" fill="none"/>
<line x1="478.00" y1="85.50" x2="486.50" y2="85.50" stroke="#000" stroke-width="0.9"/>
<polygon points="476.00,85.50 479.60,83.60 479.60,87.40" fill="#000"/>
<text x="488.70" y="87.58" font-size="6.6" font-weight="bold" text-anchor="start" fill="#000" textLength="25" lengthAdjust="spacingAndGlyphs">PARP-FL</text>
<path d="M478.00,90.30 L483.70,90.30 L488.00,95.20" stroke="#000" stroke-width="0.9" fill="none"/>
<polygon points="476.00,90.30 479.60,88.40 479.60,92.20" fill="#000"/>
<text x="488.70" y="99.38" font-size="6.6" font-weight="bold" text-anchor="start" fill="#000" textLength="25" lengthAdjust="spacingAndGlyphs">PARP-CF</text>
<line x1="439.80" y1="99.50" x2="473.70" y2="99.50" stroke="#222" stroke-width="1.2"/>
<text x="458.20" y="108.07" font-size="6.3" font-weight="bold" text-anchor="middle" fill="#000" textLength="47.5" lengthAdjust="spacingAndGlyphs">IB: anti-PARP Ab</text>
<text x="409.50" y="123.08" font-size="8" font-weight="bold" text-anchor="start" fill="#000" textLength="25" lengthAdjust="spacingAndGlyphs">LBW242</text>
<text x="448.10" y="121.66" font-size="11" font-weight="bold" text-anchor="middle" fill="#000">-</text>
<text x="463.70" y="123.36" font-size="11" font-weight="bold" text-anchor="middle" fill="#000">+</text>
<text x="490.00" y="122.45" font-size="6.8" font-weight="bold" text-anchor="start" fill="#000" textLength="18.8" lengthAdjust="spacingAndGlyphs">MM.1R</text>
<line x1="441.20" y1="124.50" x2="476.20" y2="124.50" stroke="#000" stroke-width="1.2"/>
<text x="425.30" y="128.97" font-size="5.2" font-weight="bold" text-anchor="start" fill="#000" textLength="9" lengthAdjust="spacingAndGlyphs" stroke="#000" stroke-width="0.2">KDa</text>
<rect x="442.00" y="130.50" width="33.00" height="12.00" fill="#e6e6e6" filter="url(#bl2)"/>
<rect x="442.80" y="132.10" width="14.20" height="3.60" rx="1.80" fill="#050505" filter="url(#bl)"/>
<rect x="459.50" y="133.50" width="14.50" height="2.60" rx="1.30" fill="#0c0c0c" filter="url(#bl)"/>
<rect x="460.00" y="137.30" width="14.00" height="2.60" rx="1.30" fill="#111" filter="url(#bl)"/>
<text x="427.50" y="136.38" font-size="4.4" font-weight="bold" text-anchor="start" fill="#000" textLength="11.5" lengthAdjust="spacingAndGlyphs" stroke="#000" stroke-width="0.2">110 –</text>
<text x="428.00" y="144.58" font-size="4.4" font-weight="bold" text-anchor="start" fill="#000" stroke="#000" stroke-width="0.2">85</text>
<path d="M433,141.8 C435,141.4 436,139.5 439,138.8" stroke="#000" stroke-width="0.7" fill="none"/>
<line x1="479.50" y1="134.50" x2="487.80" y2="134.50" stroke="#000" stroke-width="0.9"/>
<polygon points="477.50,134.50 481.10,132.60 481.10,136.40" fill="#000"/>
<text x="490.00" y="136.38" font-size="6.6" font-weight="bold" text-anchor="start" fill="#000" textLength="25" lengthAdjust="spacingAndGlyphs">PARP-FL</text>
<path d="M479.50,139.30 L485.00,139.30 L489.50,144.50" stroke="#000" stroke-width="0.9" fill="none"/>
<polygon points="477.50,139.30 481.10,137.40 481.10,141.20" fill="#000"/>
<text x="490.00" y="148.28" font-size="6.6" font-weight="bold" text-anchor="start" fill="#000" textLength="25" lengthAdjust="spacingAndGlyphs">PARP-CF</text>
<line x1="441.50" y1="148.50" x2="476.20" y2="148.50" stroke="#222" stroke-width="1.2"/>
<text x="460.00" y="157.07" font-size="6.3" font-weight="bold" text-anchor="middle" fill="#000" textLength="47.5" lengthAdjust="spacingAndGlyphs">IB: anti-PARP Ab</text>
<g id="panelD">
<text x="2.00" y="174.47" font-size="10.2" font-weight="bold" text-anchor="start" fill="#000">D</text>
<line x1="46.80" y1="176.20" x2="46.80" y2="269.00" stroke="#000" stroke-width="1.2"/>
<line x1="46.20" y1="269.00" x2="141.00" y2="269.00" stroke="#000" stroke-width="1.3"/>
<line x1="44.80" y1="176.50" x2="46.80" y2="176.50" stroke="#000" stroke-width="0.8"/>
<text x="43.60" y="178.93" font-size="6.2" font-weight="bold" text-anchor="end" fill="#000">125</text>
<line x1="44.80" y1="195.00" x2="46.80" y2="195.00" stroke="#000" stroke-width="0.8"/>
<text x="43.60" y="197.43" font-size="6.2" font-weight="bold" text-anchor="end" fill="#000">100</text>
<line x1="44.80" y1="213.50" x2="46.80" y2="213.50" stroke="#000" stroke-width="0.8"/>
<text x="43.60" y="215.93" font-size="6.2" font-weight="bold" text-anchor="end" fill="#000">75</text>
<line x1="44.80" y1="232.00" x2="46.80" y2="232.00" stroke="#000" stroke-width="0.8"/>
<text x="43.60" y="234.43" font-size="6.2" font-weight="bold" text-anchor="end" fill="#000">50</text>
<line x1="44.80" y1="250.50" x2="46.80" y2="250.50" stroke="#000" stroke-width="0.8"/>
<text x="43.60" y="252.93" font-size="6.2" font-weight="bold" text-anchor="end" fill="#000">25</text>
<line x1="44.80" y1="269.00" x2="46.80" y2="269.00" stroke="#000" stroke-width="0.8"/>
<text x="44.60" y="271.43" font-size="6.2" font-weight="bold" text-anchor="end" fill="#000">0</text>
<text transform="translate(25,223) rotate(-90)" font-size="7.6" font-weight="bold" text-anchor="middle" textLength="82" lengthAdjust="spacingAndGlyphs">Viable cells (% Control)</text>
<rect x="48.00" y="195.00" width="4.90" height="74.00" fill="#000"/>
<line x1="50.45" y1="191.80" x2="50.45" y2="195.00" stroke="#000" stroke-width="0.6"/>
<line x1="48.85" y1="191.80" x2="52.05" y2="191.80" stroke="#000" stroke-width="0.7"/>
<rect x="54.25" y="239.40" width="4.90" height="29.60" fill="#000"/>
<line x1="56.70" y1="236.20" x2="56.70" y2="239.40" stroke="#000" stroke-width="0.6"/>
<line x1="55.10" y1="236.20" x2="58.30" y2="236.20" stroke="#000" stroke-width="0.7"/>
<rect x="60.50" y="257.90" width="4.90" height="11.10" fill="#000"/>
<line x1="62.95" y1="253.70" x2="62.95" y2="257.90" stroke="#000" stroke-width="0.6"/>
<line x1="61.35" y1="253.70" x2="64.55" y2="253.70" stroke="#000" stroke-width="0.7"/>
<text x="50.40" y="282.42" font-size="4.5" font-weight="bold" text-anchor="middle" fill="#000">0</text>
<text x="56.90" y="282.42" font-size="4.5" font-weight="bold" text-anchor="middle" fill="#000">20</text>
<text x="63.40" y="282.42" font-size="4.5" font-weight="bold" text-anchor="middle" fill="#000">30</text>
<line x1="47.70" y1="285.50" x2="66.80" y2="285.50" stroke="#000" stroke-width="1.2"/>
<text x="57.70" y="292.99" font-size="5.8" font-weight="bold" text-anchor="middle" fill="#000" textLength="10.8" lengthAdjust="spacingAndGlyphs">Pt&#160;&#160;1</text>
<rect x="73.00" y="195.00" width="4.90" height="74.00" fill="#000"/>
<line x1="75.45" y1="191.80" x2="75.45" y2="195.00" stroke="#000" stroke-width="0.6"/>
<line x1="73.85" y1="191.80" x2="77.05" y2="191.80" stroke="#000" stroke-width="0.7"/>
<rect x="79.25" y="236.44" width="4.90" height="32.56" fill="#000"/>
<line x1="81.70" y1="232.74" x2="81.70" y2="236.44" stroke="#000" stroke-width="0.6"/>
<line x1="80.10" y1="232.74" x2="83.30" y2="232.74" stroke="#000" stroke-width="0.7"/>
<rect x="85.50" y="242.36" width="4.90" height="26.64" fill="#000"/>
<line x1="87.95" y1="239.86" x2="87.95" y2="242.36" stroke="#000" stroke-width="0.6"/>
<line x1="86.35" y1="239.86" x2="89.55" y2="239.86" stroke="#000" stroke-width="0.7"/>
<text x="75.40" y="282.42" font-size="4.5" font-weight="bold" text-anchor="middle" fill="#000">0</text>
<text x="81.90" y="282.42" font-size="4.5" font-weight="bold" text-anchor="middle" fill="#000">20</text>
<text x="88.40" y="282.42" font-size="4.5" font-weight="bold" text-anchor="middle" fill="#000">30</text>
<line x1="72.70" y1="285.50" x2="91.80" y2="285.50" stroke="#000" stroke-width="1.2"/>
<text x="82.70" y="292.99" font-size="5.8" font-weight="bold" text-anchor="middle" fill="#000" textLength="10.8" lengthAdjust="spacingAndGlyphs">Pt&#160;&#160;2</text>
<rect x="97.60" y="195.00" width="4.90" height="74.00" fill="#000"/>
<line x1="100.05" y1="192.60" x2="100.05" y2="195.00" stroke="#000" stroke-width="0.6"/>
<line x1="98.45" y1="192.60" x2="101.65" y2="192.60" stroke="#000" stroke-width="0.7"/>
<rect x="103.85" y="228.30" width="4.90" height="40.70" fill="#000"/>
<line x1="106.30" y1="224.80" x2="106.30" y2="228.30" stroke="#000" stroke-width="0.6"/>
<line x1="104.70" y1="224.80" x2="107.90" y2="224.80" stroke="#000" stroke-width="0.7"/>
<rect x="110.10" y="239.40" width="4.90" height="29.60" fill="#000"/>
<line x1="112.55" y1="236.40" x2="112.55" y2="239.40" stroke="#000" stroke-width="0.6"/>
<line x1="110.95" y1="236.40" x2="114.15" y2="236.40" stroke="#000" stroke-width="0.7"/>
<text x="100.00" y="282.42" font-size="4.5" font-weight="bold" text-anchor="middle" fill="#000">0</text>
<text x="106.50" y="282.42" font-size="4.5" font-weight="bold" text-anchor="middle" fill="#000">20</text>
<text x="113.00" y="282.42" font-size="4.5" font-weight="bold" text-anchor="middle" fill="#000">30</text>
<line x1="97.30" y1="285.50" x2="116.40" y2="285.50" stroke="#000" stroke-width="1.2"/>
<text x="107.30" y="292.99" font-size="5.8" font-weight="bold" text-anchor="middle" fill="#000" textLength="10.8" lengthAdjust="spacingAndGlyphs">Pt&#160;&#160;3</text>
<rect x="122.50" y="195.00" width="4.90" height="74.00" fill="#000"/>
<line x1="124.95" y1="191.80" x2="124.95" y2="195.00" stroke="#000" stroke-width="0.6"/>
<line x1="123.35" y1="191.80" x2="126.55" y2="191.80" stroke="#000" stroke-width="0.7"/>
<rect x="128.75" y="243.10" width="4.90" height="25.90" fill="#000"/>
<line x1="131.20" y1="240.20" x2="131.20" y2="243.10" stroke="#000" stroke-width="0.6"/>
<line x1="129.60" y1="240.20" x2="132.80" y2="240.20" stroke="#000" stroke-width="0.7"/>
<rect x="135.00" y="261.60" width="4.90" height="7.40" fill="#000"/>
<line x1="137.45" y1="259.30" x2="137.45" y2="261.60" stroke="#000" stroke-width="0.6"/>
<line x1="135.85" y1="259.30" x2="139.05" y2="259.30" stroke="#000" stroke-width="0.7"/>
<text x="124.90" y="282.42" font-size="4.5" font-weight="bold" text-anchor="middle" fill="#000">0</text>
<text x="131.40" y="282.42" font-size="4.5" font-weight="bold" text-anchor="middle" fill="#000">20</text>
<text x="137.90" y="282.42" font-size="4.5" font-weight="bold" text-anchor="middle" fill="#000">30</text>
<line x1="122.20" y1="285.50" x2="141.30" y2="285.50" stroke="#000" stroke-width="1.2"/>
<text x="132.20" y="292.99" font-size="5.8" font-weight="bold" text-anchor="middle" fill="#000" textLength="10.8" lengthAdjust="spacingAndGlyphs">Pt&#160;&#160;4</text>
<text x="1.00" y="283.74" font-size="7.6" font-weight="bold" text-anchor="start" fill="#000" textLength="40.5" lengthAdjust="spacingAndGlyphs">LBW242 (<tspan font-weight="normal" font-family="Liberation Serif, serif"> μ</tspan>M)</text>
<text x="1.00" y="293.12" font-size="5.9" font-weight="bold" text-anchor="start" fill="#000" textLength="32" lengthAdjust="spacingAndGlyphs">CD138<tspan dy="-2.2" font-size="5.2">+</tspan><tspan dy="2.2">cells</tspan></text>
<line x1="48.00" y1="295.80" x2="141.00" y2="295.80" stroke="#000" stroke-width="1.2"/>
<text x="94.30" y="305.98" font-size="5.5" font-weight="bold" text-anchor="middle" fill="#000" textLength="23.5" lengthAdjust="spacingAndGlyphs">Time: 48h</text>
</g>
<g id="panelE">
<text x="162.00" y="174.47" font-size="10.2" font-weight="bold" text-anchor="start" fill="#000">E</text>
<line x1="201.00" y1="191.40" x2="201.00" y2="269.00" stroke="#000" stroke-width="1.4"/>
<line x1="200.40" y1="269.40" x2="296.30" y2="269.40" stroke="#000" stroke-width="1.5"/>
<line x1="199.00" y1="192.50" x2="201.00" y2="192.50" stroke="#000" stroke-width="0.8"/>
<text x="198.20" y="195.22" font-size="7" font-weight="bold" text-anchor="end" fill="#000">2.0</text>
<line x1="199.00" y1="211.50" x2="201.00" y2="211.50" stroke="#000" stroke-width="0.8"/>
<text x="198.20" y="214.22" font-size="7" font-weight="bold" text-anchor="end" fill="#000">1.5</text>
<line x1="199.00" y1="230.50" x2="201.00" y2="230.50" stroke="#000" stroke-width="0.8"/>
<text x="198.20" y="233.22" font-size="7" font-weight="bold" text-anchor="end" fill="#000">1.0</text>
<line x1="199.00" y1="249.50" x2="201.00" y2="249.50" stroke="#000" stroke-width="0.8"/>
<text x="198.20" y="252.22" font-size="7" font-weight="bold" text-anchor="end" fill="#000">0.5</text>
<text transform="translate(180.9,229) rotate(-90)" font-size="6" font-weight="bold" text-anchor="middle" textLength="82" lengthAdjust="spacingAndGlyphs">Relative DNA Fragmentation</text>
<rect x="203.00" y="255.40" width="12.00" height="13.60" fill="#000"/>
<rect x="218.30" y="199.40" width="13.00" height="69.60" fill="#000"/>
<line x1="224.80" y1="196.40" x2="224.80" y2="199.40" stroke="#000" stroke-width="0.5"/>
<line x1="221.50" y1="196.40" x2="228.10" y2="196.40" stroke="#000" stroke-width="0.5"/>
<rect x="234.50" y="257.80" width="12.50" height="11.20" fill="#000"/>
<rect x="250.00" y="206.90" width="13.00" height="62.10" fill="#000"/>
<line x1="256.50" y1="203.30" x2="256.50" y2="206.90" stroke="#000" stroke-width="0.5"/>
<line x1="253.20" y1="203.30" x2="259.80" y2="203.30" stroke="#000" stroke-width="0.5"/>
<rect x="266.30" y="261.20" width="12.50" height="7.80" fill="#000"/>
<rect x="282.00" y="197.40" width="12.50" height="71.60" fill="#000"/>
<line x1="288.25" y1="195.40" x2="288.25" y2="197.40" stroke="#000" stroke-width="0.5"/>
<line x1="284.95" y1="195.40" x2="291.55" y2="195.40" stroke="#000" stroke-width="0.5"/>
<text x="209.10" y="281.56" font-size="11" font-weight="bold" text-anchor="middle" fill="#000">-</text>
<text x="223.80" y="283.40" font-size="10" font-weight="bold" text-anchor="middle" fill="#000">+</text>
<line x1="205.50" y1="286.00" x2="227.80" y2="286.00" stroke="#000" stroke-width="1.2"/>
<text x="216.30" y="293.72" font-size="5.6" font-weight="bold" text-anchor="middle" fill="#000" textLength="10.6" lengthAdjust="spacingAndGlyphs">Pt&#160;&#160;1</text>
<text x="241.10" y="281.56" font-size="11" font-weight="bold" text-anchor="middle" fill="#000">-</text>
<text x="255.80" y="283.40" font-size="10" font-weight="bold" text-anchor="middle" fill="#000">+</text>
<line x1="237.50" y1="286.00" x2="259.80" y2="286.00" stroke="#000" stroke-width="1.2"/>
<text x="248.30" y="293.72" font-size="5.6" font-weight="bold" text-anchor="middle" fill="#000" textLength="10.6" lengthAdjust="spacingAndGlyphs">Pt&#160;&#160;2</text>
<text x="273.60" y="281.56" font-size="11" font-weight="bold" text-anchor="middle" fill="#000">-</text>
<text x="288.30" y="283.40" font-size="10" font-weight="bold" text-anchor="middle" fill="#000">+</text>
<line x1="270.00" y1="286.00" x2="292.30" y2="286.00" stroke="#000" stroke-width="1.2"/>
<text x="280.80" y="293.72" font-size="5.6" font-weight="bold" text-anchor="middle" fill="#000" textLength="10.6" lengthAdjust="spacingAndGlyphs">Pt&#160;&#160;3</text>
<text x="162.50" y="282.74" font-size="7.6" font-weight="bold" text-anchor="start" fill="#000" textLength="23.8" lengthAdjust="spacingAndGlyphs">LBW242</text>
<text x="162.50" y="293.42" font-size="5.9" font-weight="bold" text-anchor="start" fill="#000" textLength="31" lengthAdjust="spacingAndGlyphs">CD138<tspan dy="-2.2" font-size="5.2">+</tspan><tspan dy="2.2">cells</tspan></text>
<line x1="205.50" y1="298.50" x2="292.00" y2="298.50" stroke="#000" stroke-width="1.2"/>
<text x="246.50" y="305.68" font-size="5.5" font-weight="bold" text-anchor="middle" fill="#000" textLength="23" lengthAdjust="spacingAndGlyphs">Time: 48h</text>
</g>
<g id="panelF">
<text x="312.30" y="174.47" font-size="10.2" font-weight="bold" text-anchor="start" fill="#000">F</text>
<text x="354.00" y="187.30" font-size="6.4" font-weight="bold" text-anchor="middle" fill="#000" textLength="19.6" lengthAdjust="spacingAndGlyphs">Patient</text>
<text x="340.80" y="193.60" font-size="5" font-weight="bold" text-anchor="start" fill="#000" textLength="29.4" lengthAdjust="spacingAndGlyphs">CD138<tspan dy="-1.9" font-size="4">+</tspan><tspan dy="1.9">cells</tspan></text>
<line x1="340.60" y1="196.50" x2="371.30" y2="196.50" stroke="#000" stroke-width="1.5"/>
<text x="312.50" y="205.41" font-size="6.7" font-weight="bold" text-anchor="start" fill="#000" textLength="21.3" lengthAdjust="spacingAndGlyphs">LBW242</text>
<text x="348.00" y="204.80" font-size="10" font-weight="bold" text-anchor="middle" fill="#000">-</text>
<text x="360.40" y="206.82" font-size="9.5" font-weight="bold" text-anchor="middle" fill="#000" stroke="#000" stroke-width="0.25">+</text>
<text x="326.20" y="211.18" font-size="4.4" font-weight="bold" text-anchor="start" fill="#000" textLength="7.5" lengthAdjust="spacingAndGlyphs" stroke="#000" stroke-width="0.2">KDa</text>
<text x="328.60" y="216.94" font-size="4" font-weight="bold" text-anchor="start" fill="#000" textLength="9.6" lengthAdjust="spacingAndGlyphs" stroke="#000" stroke-width="0.2">110 –</text>
<text x="328.60" y="224.74" font-size="4" font-weight="bold" text-anchor="start" fill="#000" stroke="#000" stroke-width="0.2">85</text>
<path d="M333.2,222.6 C335.3,222.2 335.8,220.4 338.3,219.8" stroke="#000" stroke-width="0.7" fill="none"/>
<rect x="342.50" y="211.50" width="26.00" height="12.50" fill="#e9e9e9" filter="url(#bl2)"/>
<rect x="342.30" y="213.45" width="12.70" height="3.10" rx="1.55" fill="#0a0a0a" filter="url(#bl)"/>
<rect x="346.50" y="212.05" width="5.50" height="1.50" rx="0.75" fill="#777" filter="url(#bl)"/>
<rect x="357.50" y="214.45" width="10.50" height="1.90" rx="0.95" fill="#333" filter="url(#bl)"/>
<rect x="357.00" y="218.45" width="11.00" height="3.10" rx="1.55" fill="#111" filter="url(#bl)"/>
<line x1="373.20" y1="214.70" x2="380.70" y2="214.70" stroke="#000" stroke-width="0.8"/>
<polygon points="371.20,214.70 374.80,212.80 374.80,216.60" fill="#000"/>
<text x="383.20" y="216.15" font-size="5.7" font-weight="bold" text-anchor="start" fill="#000" textLength="22" lengthAdjust="spacingAndGlyphs">PARP-FL</text>
<path d="M373.20,219.50 L377.50,219.50 L382.00,223.80" stroke="#000" stroke-width="0.8" fill="none"/>
<polygon points="371.20,219.50 374.80,217.60 374.80,221.40" fill="#000"/>
<text x="383.20" y="227.05" font-size="5.7" font-weight="bold" text-anchor="start" fill="#000" textLength="22" lengthAdjust="spacingAndGlyphs">PARP-CF</text>
<line x1="341.20" y1="230.10" x2="375.60" y2="230.10" stroke="#222" stroke-width="1.4"/>
<text x="358.70" y="237.42" font-size="5.6" font-weight="bold" text-anchor="middle" fill="#000" textLength="41.5" lengthAdjust="spacingAndGlyphs">IB: anti-PARP Ab</text>
</g>
</svg>
</body></html>
